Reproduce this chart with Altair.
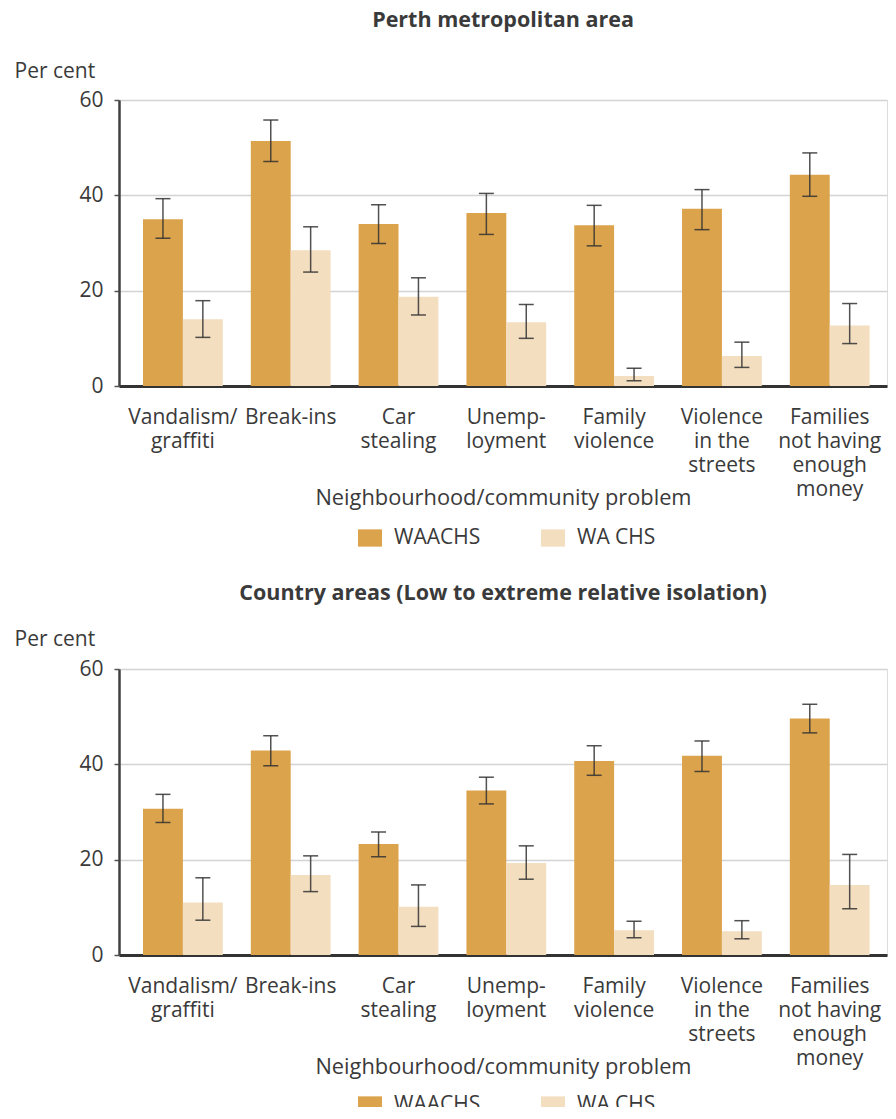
import altair as alt
import pandas as pd

categories = ["Vandalism/graffiti", "Break-ins", "Car stealing", "Unemployment",
              "Family violence", "Violence in the streets", "Families not having enough money"]
tick_labels = ["Vandalism/|graffiti", "Break-ins", "Car|stealing", "Unemp-|loyment",
               "Family|violence", "Violence|in the|streets", "Families|not having|enough|money"]
surveys = ["WAACHS", "WA CHS"]

# Perth metropolitan area
perth_waachs = [35.0, 51.4, 34.0, 36.3, 33.7, 37.2, 44.3]
perth_waachs_lo = [31.0, 47.1, 29.9, 31.8, 29.4, 32.8, 39.8]
perth_waachs_hi = [39.3, 55.8, 38.0, 40.4, 37.9, 41.2, 48.9]
perth_wachs = [14.0, 28.5, 18.7, 13.4, 2.1, 6.3, 12.7]
perth_wachs_lo = [10.2, 23.9, 14.9, 10.0, 1.1, 3.9, 8.9]
perth_wachs_hi = [17.9, 33.4, 22.7, 17.1, 3.7, 9.2, 17.3]

# Country areas
country_waachs = [30.7, 42.9, 23.3, 34.5, 40.7, 41.8, 49.6]
country_waachs_lo = [27.8, 39.7, 20.6, 31.7, 37.7, 38.5, 46.6]
country_waachs_hi = [33.7, 46.0, 25.8, 37.3, 43.9, 44.9, 52.6]
country_wachs = [11.0, 16.8, 10.1, 19.3, 5.2, 5.0, 14.7]
country_wachs_lo = [7.3, 13.3, 6.0, 15.9, 3.6, 3.4, 9.7]
country_wachs_hi = [16.2, 20.8, 14.7, 22.9, 7.1, 7.2, 21.1]

y_ticks = [0, 20, 40, 60]
colors = ["#DBA34B", "#F3DEC0"]
FONT = "Open Sans"
TEXT = "#3A3A3A"
FS = 21


def make_df(w, wlo, whi, c, clo, chi):
    rows = []
    for i, cat in enumerate(categories):
        rows.append(dict(category=cat, survey="WAACHS", value=w[i], lo=wlo[i], hi=whi[i]))
        rows.append(dict(category=cat, survey="WA CHS", value=c[i], lo=clo[i], hi=chi[i]))
    return pd.DataFrame(rows)


label_map = "{" + ",".join(f"'{c}':'{t}'" for c, t in zip(categories, tick_labels)) + "}"
label_expr = f"split({label_map}[datum.label], '|')"


def panel(df, title, title_offset, legend_y, pc_y):
    x = alt.X("category:N", sort=categories,
              scale=alt.Scale(paddingInner=0.26, paddingOuter=0.192, align=0.58),
              axis=alt.Axis(title="Neighbourhood/community problem", labelAngle=0,
                            labelExpr=label_expr, labelLineHeight=24, labelPadding=20,
                            labelFontSize=FS, labelColor=TEXT, labelFont=FONT,
                            ticks=False, domainColor="#333333", domainWidth=3,
                            titleFont=FONT, titleFontSize=21.8, titleFontWeight="normal",
                            titleColor=TEXT, titleY=118, titleBaseline="alphabetic"))
    xo = alt.XOffset("survey:N", sort=surveys, scale=alt.Scale(paddingInner=0))
    y = alt.Y("value:Q", scale=alt.Scale(domain=[0, 60], nice=False),
              axis=alt.Axis(title="Per cent", values=y_ticks, titleAngle=0,
                            titleX=-105, titleY=pc_y, titleAlign="left",
                            titleBaseline="alphabetic", titleFont=FONT,
                            titleFontSize=FS, titleFontWeight="normal", titleColor=TEXT,
                            labelFont=FONT, labelFontSize=FS, labelColor=TEXT,
                            labelPadding=11, tickSize=5, tickColor="#555555",
                            tickWidth=1.5, domainColor="#404040", domainWidth=2.5,
                            gridColor="#D1D3D6", gridWidth=1.5))
    color = alt.Color("survey:N", sort=surveys,
                      scale=alt.Scale(domain=surveys, range=colors),
                      legend=alt.Legend(title=None, orient="none", direction="horizontal",
                                        legendX=239, legendY=legend_y,
                                        symbolType="M-1,-0.72H1V0.72H-1Z", symbolSize=576,
                                        symbolStrokeWidth=0, labelFont=FONT,
                                        labelFontSize=FS, labelColor=TEXT,
                                        labelOffset=12, columnPadding=60))
    base = alt.Chart(df)
    bars = base.mark_bar().encode(x=x, xOffset=xo, y=y, color=color)
    rules = base.mark_rule(color="#333333", strokeWidth=1.5, opacity=0.85).encode(
        x=alt.X("category:N", sort=categories), xOffset=xo,
        y="lo:Q", y2="hi:Q")
    caps_lo = base.mark_tick(color="#333333", thickness=1.5, size=15, opacity=0.85).encode(
        x=alt.X("category:N", sort=categories), xOffset=xo, y="lo:Q")
    caps_hi = base.mark_tick(color="#333333", thickness=1.5, size=15, opacity=0.85).encode(
        x=alt.X("category:N", sort=categories), xOffset=xo, y="hi:Q")
    return alt.layer(bars, rules, caps_lo, caps_hi).properties(
        width=768, height=286,
        title=alt.TitleParams(title, font=FONT, fontSize=21.5, fontWeight="bold",
                              color=TEXT, anchor="middle", frame="group",
                              offset=title_offset))


top = panel(make_df(perth_waachs, perth_waachs_lo, perth_waachs_hi,
                    perth_wachs, perth_wachs_lo, perth_wachs_hi),
            "Perth metropolitan area", 29, 426, -23)
bottom = panel(make_df(country_waachs, country_waachs_lo, country_waachs_hi,
                       country_wachs, country_wachs_lo, country_wachs_hi),
               "Country areas (Low to extreme relative isolation)", 24, 424, -24)

chart = alt.vconcat(top, bottom, spacing=33).resolve_scale(color="independent").configure_view(
    stroke=None).configure(padding={"left": 5, "top": 1, "right": 0, "bottom": -9},
                           background="white")

chart.save("out.html", embed_options={"renderer": "svg", "actions": False})
